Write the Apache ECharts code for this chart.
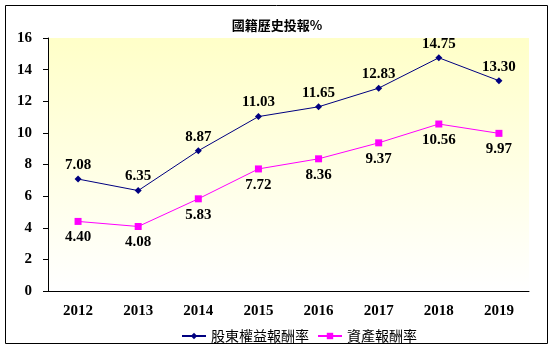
<!DOCTYPE html>
<html>
<head>
<meta charset="utf-8">
<script src="https://cdn.jsdelivr.net/npm/echarts@6/dist/echarts.min.js"></script>
<style>
  html, body { margin: 0; padding: 0; background: #fff; }
  #main { width: 554px; height: 354px; }
</style>
</head>
<body>
<div id="main"></div>
<script>
var years = ['2012', '2013', '2014', '2015', '2016', '2017', '2018', '2019'];
var roe = [7.08, 6.35, 8.87, 11.03, 11.65, 12.83, 14.75, 13.30];
var roa = [4.40, 4.08, 5.83, 7.72, 8.36, 9.37, 10.56, 9.97];
var seriesNames = ['股東權益報酬率', '資產報酬率'];

var chart = echarts.init(document.getElementById('main'));

var serif = '"Liberation Serif", "Times New Roman", serif';

chart.setOption({
	animation: false,
	title: {
		text: '國籍歷史投報%',
		left: 'center',
		top: 14,
		textStyle: {
			fontFamily: '"Noto Sans CJK TC", sans-serif',
			fontWeight: 'bold',
			fontSize: 13,
			color: '#000'
		}
	},
	graphic: [{
		type: 'rect',
		shape: { x: 5.5, y: 5.5, width: 542, height: 338 },
		style: { fill: 'none', stroke: '#000', lineWidth: 1 },
		silent: true
	}],
	legend: {
		top: 324,
		left: 176,
		itemWidth: 24,
		itemHeight: 8,
		itemGap: 8,
		data: seriesNames,
		textStyle: {
			fontFamily: '"Noto Sans CJK TC", sans-serif',
			fontSize: 14,
			color: '#000'
		}
	},
	grid: {
		left: 48,
		right: 25,
		top: 38,
		bottom: 63,
		show: true,
		borderWidth: 0,
		backgroundColor: new echarts.graphic.LinearGradient(0, 0, 0, 1, [
			{ offset: 0, color: '#ffffc8' },
			{ offset: 1, color: '#ffffff' }
		])
	},
	xAxis: {
		type: 'category',
		data: years,
		boundaryGap: true,
		axisLine: { lineStyle: { color: '#000', width: 1 } },
		axisTick: { inside: true, length: 5, lineStyle: { color: '#000' } },
		axisLabel: {
			margin: 13,
			fontFamily: serif,
			fontWeight: 'bold',
			fontSize: 15,
			color: '#000'
		}
	},
	yAxis: {
		type: 'value',
		min: 0,
		max: 16,
		interval: 2,
		splitLine: { show: false },
		axisLine: { show: true, lineStyle: { color: '#000', width: 1 } },
		axisTick: { show: true, length: 5, lineStyle: { color: '#000' } },
		axisLabel: {
			margin: 16,
			fontFamily: serif,
			fontWeight: 'bold',
			fontSize: 15,
			color: '#000'
		}
	},
	series: [{
		name: seriesNames[0],
		type: 'line',
		data: roe,
		symbol: 'diamond',
		symbolSize: 7,
		itemStyle: { color: '#000080' },
		lineStyle: { color: '#000080', width: 1 },
		label: {
			show: true,
			position: 'top',
			distance: 3,
			formatter: function (p) { return p.value.toFixed(2); },
			fontFamily: serif,
			fontWeight: 'bold',
			fontSize: 15,
			color: '#000'
		}
	}, {
		name: seriesNames[1],
		type: 'line',
		data: roa,
		symbol: 'rect',
		symbolSize: 7,
		itemStyle: { color: '#ff00ff' },
		lineStyle: { color: '#ff00ff', width: 1 },
		label: {
			show: true,
			position: 'bottom',
			distance: 5,
			formatter: function (p) { return p.value.toFixed(2); },
			fontFamily: serif,
			fontWeight: 'bold',
			fontSize: 15,
			color: '#000'
		}
	}]
});
</script>
</body>
</html>
